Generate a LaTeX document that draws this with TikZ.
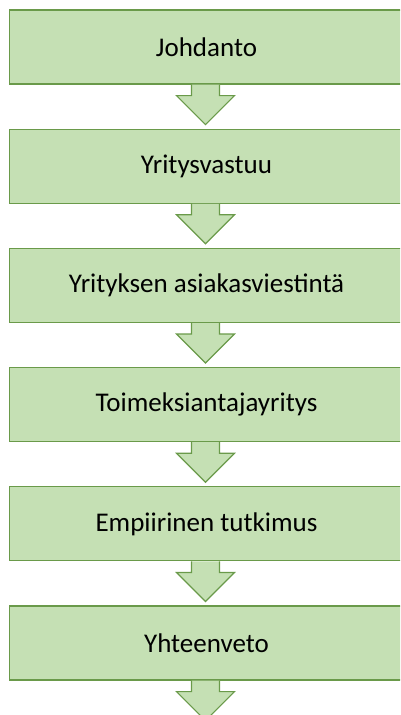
\documentclass[tikz,border=0pt]{standalone}
\usepackage{fontspec}
\setmainfont{Carlito}
\usetikzlibrary{calc}
\definecolor{boxfill}{HTML}{C5E0B4}
\definecolor{boxline}{HTML}{6A9A4A}
\tikzset{
  stage/.style={draw=boxline, line width=1.2pt, fill=boxfill, minimum width=394pt,
    minimum height=74pt, inner sep=0pt, font=\fontsize{27}{31}\selectfont},
  blockarrow/.style={draw=boxline, line width=1.2pt, fill=boxfill, line join=miter}
}
\begin{document}
\begin{tikzpicture}[x=1pt,y=-1pt]
        \useasboundingbox (0,0) rectangle (400,715);
        \clip (0,0) rectangle (400,715);
        \node[stage] (johd) at (206.5,47) {Johdanto};
        \node[stage] (vast) at (206.5,166.2) {Yritysvastuu};
        \node[stage] (viest) at (206.5,285.4) {Yrityksen asiakasviestintä};
        \node[stage] (toim) at (206.5,404.6) {Toimeksiantajayritys};
        \node[stage] (empi) at (206.5,523.8) {Empiirinen tutkimus};
        \node[stage] (yht) at (206.5,643) {Yhteenveto};
        % block arrows below each box
        \foreach \b in {johd,vast,viest,toim,empi,yht}
          \draw[blockarrow] ($(\b.south)+(-15,0)$) -- ($(\b.south)+(-15,11)$)
            -- ($(\b.south)+(-30,11)$) -- ($(\b.south)+(-1,40)$)
            -- ($(\b.south)+(28,11)$) -- ($(\b.south)+(13,11)$)
            -- ($(\b.south)+(13,0)$);
\end{tikzpicture}
\end{document}
